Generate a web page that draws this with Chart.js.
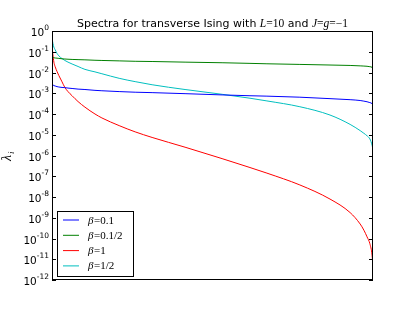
<!DOCTYPE html>
<html lang="en">
<head>
  <meta charset="UTF-8" />
  <title>Spectra for transverse Ising</title>
  <script src="https://cdn.jsdelivr.net/npm/chart.js"></script>
  <style>
    body {
      margin: 0;
      background: #ffffff;
    }
    #chart {
      display: block;
    }
  </style>
</head>
<body>
  <canvas id="chart" width="415" height="312"></canvas>
  <script>
    // eigenvalue index (sorted spectrum, 2^10 values)
    const index = [0, 3, 6, 10, 16, 22, 32, 41, 51, 64, 83, 105, 137, 159, 214, 265,
      319, 424, 542, 631, 685, 790, 886, 950, 982, 994, 1004, 1013, 1020, 1023];

    // log10 of lambda_i
    const beta01Log = [-2.55, -2.6, -2.63, -2.65, -2.68, -2.7, -2.72, -2.73, -2.75, -2.77,
      -2.8, -2.82, -2.86, -2.88, -2.92, -2.95, -2.97, -3.02, -3.08, -3.12, -3.14, -3.19,
      -3.26, -3.31, -3.35, -3.38, -3.41, -3.45, -3.5, -3.57];
    const beta005Log = [-1.27, -1.28, -1.29, -1.3, -1.31, -1.32, -1.34, -1.35, -1.36, -1.37,
      -1.38, -1.39, -1.41, -1.42, -1.44, -1.46, -1.47, -1.5, -1.53, -1.56, -1.58, -1.61,
      -1.64, -1.66, -1.68, -1.69, -1.7, -1.72, -1.75, -1.8];
    const beta1Log = [-0.74, -1.15, -1.5, -1.72, -1.95, -2.15, -2.45, -2.72, -2.92, -3.12,
      -3.4, -3.67, -4.0, -4.19, -4.56, -4.86, -5.13, -5.6, -6.15, -6.58, -6.85, -7.42,
      -8.1, -8.75, -9.3, -9.6, -9.92, -10.25, -10.8, -11.4];
    const beta05Log = [-0.34, -0.6, -0.78, -0.9, -1.08, -1.2, -1.33, -1.42, -1.5, -1.59,
      -1.71, -1.85, -1.97, -2.06, -2.28, -2.44, -2.59, -2.82, -3.05, -3.24, -3.37, -3.65,
      -4.05, -4.5, -4.8, -4.93, -5.05, -5.2, -5.5, -5.72];

    const legendLabels = ["\u03b2=0.1", "\u03b2=0.1/2", "\u03b2=1", "\u03b2=1/2"];
    const colors = ["#0000ff", "#008000", "#ff0000", "#00bfbf"];
    const tickExponents = [0, -1, -2, -3, -4, -5, -6, -7, -8, -9, -10, -11, -12];

    const SANS = '"DejaVu Sans", sans-serif';
    const SERIF = '"Liberation Serif", serif';

    function toPoints(logs) {
      return logs.map((v, i) => ({ x: index[i], y: Math.pow(10, v) }));
    }

    // frame, ticks, tick labels, title, y label, legend
    const decorations = {
      id: "decorations",
      afterDraw(chart) {
        const ctx = chart.ctx;
        const area = chart.chartArea;
        const y = chart.scales.y;
        ctx.save();

        ctx.strokeStyle = "#000000";
        ctx.lineWidth = 1;
        ctx.strokeRect(area.left + 0.5, area.top + 0.5, area.right - area.left - 1, area.bottom - area.top - 1);

        ctx.fillStyle = "#000000";
        ctx.textBaseline = "alphabetic";
        tickExponents.forEach(e => {
          const py = Math.round(y.getPixelForValue(Math.pow(10, e))) + 0.5;
          ctx.beginPath();
          ctx.moveTo(area.left, py);
          ctx.lineTo(area.left + 4, py);
          ctx.moveTo(area.right, py);
          ctx.lineTo(area.right - 4, py);
          ctx.stroke();

          const exp = String(e);
          ctx.font = "7.5px " + SANS;
          const ew = ctx.measureText(exp).width;
          ctx.textAlign = "right";
          ctx.fillText(exp, area.left - 3, py - 1.5);
          ctx.font = "10.5px " + SANS;
          ctx.fillText("10", area.left - 3 - ew, py + 4.5);
        });

        // title with math parts
        const parts = [
          ["Spectra for transverse Ising with ", "11px " + SANS],
          ["L", "italic 11.5px " + SERIF],
          ["=10", "11.5px " + SERIF],
          [" and ", "11px " + SANS],
          ["J", "italic 11.5px " + SERIF],
          ["=", "11.5px " + SERIF],
          ["g", "italic 11.5px " + SERIF],
          ["=\u22121", "11.5px " + SERIF]
        ];
        let total = 0;
        parts.forEach(p => { ctx.font = p[1]; total += ctx.measureText(p[0]).width; });
        let tx = (area.left + area.right) / 2 - total / 2;
        ctx.textAlign = "left";
        parts.forEach(p => {
          ctx.font = p[1];
          ctx.fillText(p[0], tx, 27);
          tx += ctx.measureText(p[0]).width;
        });

        // y label
        ctx.save();
        ctx.translate(11, 158);
        ctx.rotate(-Math.PI / 2);
        ctx.font = "italic 14px " + SERIF;
        ctx.textAlign = "center";
        ctx.fillText("\u03bb", 0, 0);
        ctx.font = "italic 9px " + SERIF;
        ctx.textAlign = "left";
        ctx.fillText("i", 4, 3);
        ctx.restore();

        // legend
        const lx = 57, ly = 211, lw = 76, lh = 65;
        ctx.fillStyle = "#ffffff";
        ctx.fillRect(lx, ly, lw, lh);
        ctx.strokeStyle = "#000000";
        ctx.strokeRect(lx + 0.5, ly + 0.5, lw, lh);
        chart.data.datasets.forEach((ds, i) => {
          const ry = ly + 9 + i * 15.3;
          ctx.strokeStyle = ds.borderColor;
          ctx.beginPath();
          ctx.moveTo(63, ry);
          ctx.lineTo(79, ry);
          ctx.stroke();
          ctx.fillStyle = "#000000";
          ctx.textAlign = "left";
          ctx.font = "italic 11px " + SERIF;
          const greek = ds.label.charAt(0);
          ctx.fillText(greek, 88, ry + 3.5);
          const gw = ctx.measureText(greek).width;
          ctx.font = "11px " + SERIF;
          ctx.fillText(ds.label.slice(1), 88 + gw + 0.5, ry + 3.5);
        });

        ctx.restore();
      }
    };

    new Chart(document.getElementById("chart"), {
      type: "line",
      data: {
        datasets: [beta01Log, beta005Log, beta1Log, beta05Log].map((logs, i) => ({
          label: legendLabels[i],
          data: toPoints(logs),
          borderColor: colors[i],
          borderWidth: 1,
          pointRadius: 0,
          fill: false,
          cubicInterpolationMode: "monotone"
        }))
      },
      options: {
        responsive: false,
        animation: false,
        layout: { padding: { left: 52, right: 42, top: 31, bottom: 32 } },
        plugins: {
          legend: { display: false },
          title: { display: false },
          tooltip: { enabled: false }
        },
        scales: {
          x: { type: "linear", min: 0, max: 1023, display: false },
          y: { type: "logarithmic", min: 1e-12, max: 1, display: false }
        }
      },
      plugins: [decorations]
    });
  </script>
</body>
</html>
